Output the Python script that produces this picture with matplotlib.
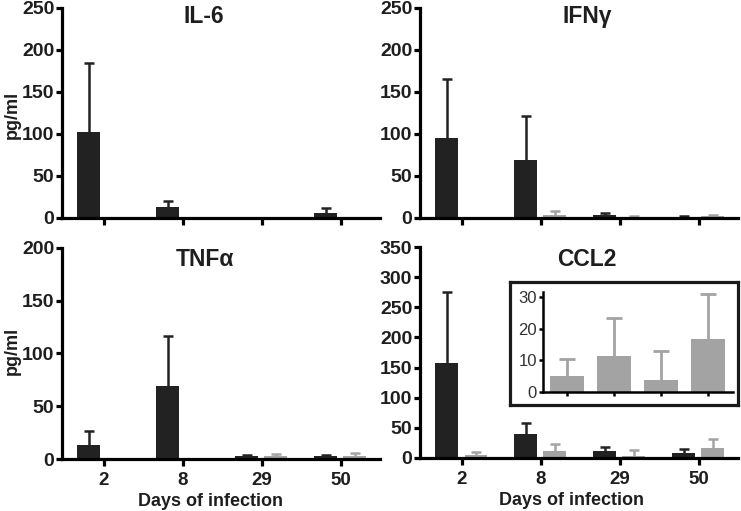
import matplotlib
matplotlib.use("Agg")
import matplotlib.pyplot as plt
import numpy as np

plt.rcParams['font.family'] = ['Liberation Sans', 'DejaVu Sans']

days = ["2", "8", "29", "50"]

il6_black = [102, 13, 0.6, 6]
il6_black_err = [82, 7, 0, 6]
il6_gray = [0.5, 0.5, 0.6, 0.4]
il6_gray_err = [0, 0, 0, 0]

ifng_black = [95, 69, 3, 1.5]
ifng_black_err = [71, 53, 3, 0.8]
ifng_gray = [0, 4, 1.5, 2.5]
ifng_gray_err = [0, 4, 0.8, 1.5]

tnfa_black = [13.5, 69, 3, 2.5]
tnfa_black_err = [13.5, 48, 1, 1]
tnfa_gray = [1, 1, 2.5, 3]
tnfa_gray_err = [0, 0, 2, 2.5]

ccl2_black = [158, 39, 11, 8]
ccl2_black_err = [118, 19, 7, 7]
ccl2_gray = [5.0, 11.3, 3.9, 16.6]
ccl2_gray_err = [5.5, 12.0, 9.1, 14.4]

BLACK = "#222222"
GRAY = "#a3a3a3"
TXT = "#1e1e1e"
W, H = 741, 511

fig = plt.figure(figsize=(W / 100, H / 100), dpi=100)


def px_axes(x0, x1, ytop, ybot):
    return fig.add_axes([x0 / W, 1 - ybot / H, (x1 - x0) / W, (ybot - ytop) / H])


def style(ax, ymax, step, lw=2.3):
    for s in ["top", "right"]:
        ax.spines[s].set_visible(False)
    for s in ["left", "bottom"]:
        ax.spines[s].set_linewidth(lw)
    ax.set_ylim(0, ymax)
    ax.set_yticks(np.arange(0, ymax + 1, step))
    ax.set_xlim(-0.53, 3.5)
    ax.set_xticks(np.arange(len(days)))
    ax.tick_params(axis="y", width=lw, length=4, direction="out", pad=1.5)
    ax.tick_params(axis="x", width=lw, length=5, direction="out", pad=4.5)
    for lab in ax.get_yticklabels():
        lab.set_fontweight("bold")
        lab.set_fontsize(14)
        lab.set_color(TXT)


def err_up(ax, x, v, e, color, lw=1.8, cap=3.5):
    _, caps, _ = ax.errorbar([x], [v], yerr=[[0], [e]], fmt="none", ecolor=color,
                             elinewidth=lw, capsize=cap, capthick=lw, zorder=1)
    if caps:
        caps[0].set_visible(False)


def draw(ax, vb, eb, vg, eg, xb=-0.19, xg=0.18, w=0.29):
    x = np.arange(len(days))
    ax.bar(x + xb, vb, w, color=BLACK, zorder=2)
    ax.bar(x + xg, vg, w, color=GRAY, zorder=2)
    for xi, v, e in zip(x + xb, vb, eb):
        if e > 0:
            err_up(ax, xi, v, e, BLACK)
    for xi, v, e in zip(x + xg, vg, eg):
        if e > 0:
            err_up(ax, xi, v, e, GRAY)


title_kw = dict(fontsize=16.5, fontweight="bold", ha="center", va="baseline", color=TXT)
lab_kw = dict(fontsize=13, fontweight="bold", color=TXT)

# Top-left IL-6
ax1 = px_axes(62, 380, 8, 218)
draw(ax1, il6_black, il6_black_err, il6_gray, il6_gray_err)
style(ax1, 250, 50)
ax1.set_xticklabels([])
ax1.text(0.447, 0.929, "IL-6", transform=ax1.transAxes, **title_kw)
ax1.set_ylabel("pg/ml", **lab_kw)
ax1.yaxis.set_label_coords(-0.128, 0.49)

# Top-right IFNγ
ax2 = px_axes(420, 738, 8, 218)
draw(ax2, ifng_black, ifng_black_err, ifng_gray, ifng_gray_err)
style(ax2, 250, 50)
ax2.set_xticklabels([])
ax2.text(0.525, 0.929, "IFNγ", transform=ax2.transAxes, **title_kw)

# Bottom-left TNFα
ax3 = px_axes(62, 380, 248, 459)
draw(ax3, tnfa_black, tnfa_black_err, tnfa_gray, tnfa_gray_err)
style(ax3, 200, 50)
ax3.set_xticklabels(days, fontsize=13.5, fontweight="bold", color=TXT)
ax3.text(0.45, 0.915, "TNFα", transform=ax3.transAxes, **title_kw)
ax3.set_ylabel("pg/ml", **lab_kw)
ax3.yaxis.set_label_coords(-0.128, 0.51)
ax3.set_xlabel("Days of infection", **lab_kw)
ax3.xaxis.set_label_coords(0.468, -0.162)

# Bottom-right CCL2
ax4 = px_axes(420, 738, 247, 458)
draw(ax4, ccl2_black, ccl2_black_err, ccl2_gray, ccl2_gray_err)
style(ax4, 350, 50)
ax4.set_xticklabels(days, fontsize=13.5, fontweight="bold", color=TXT)
ax4.text(0.525, 0.91, "CCL2", transform=ax4.transAxes, **title_kw)
ax4.set_xlabel("Days of infection", **lab_kw)
ax4.xaxis.set_label_coords(0.475, -0.162)

# Inset frame
box = px_axes(510, 738, 282, 405)
box.set_xticks([])
box.set_yticks([])
box.set_facecolor("white")
for s in box.spines.values():
    s.set_linewidth(2.3)
    s.set_color("#1a1a1a")

# Inset
axi = px_axes(543, 733, 292, 392)
xi = np.arange(len(days))
axi.bar(xi, ccl2_gray, 0.72, color=GRAY, zorder=2)
for x0, v, e in zip(xi, ccl2_gray, ccl2_gray_err):
    err_up(axi, x0, v, e, GRAY, lw=2.0, cap=5.5)
axi.set_facecolor("none")
for s in ["top", "right"]:
    axi.spines[s].set_visible(False)
for s in ["left", "bottom"]:
    axi.spines[s].set_linewidth(1.8)
axi.set_xlim(-0.51, 3.53)
axi.set_ylim(0, 31.5)
axi.set_yticks([0, 10, 20, 30])
axi.set_xticks(xi)
axi.set_xticklabels([])
axi.tick_params(axis="both", width=1.8, length=3, direction="out", pad=1.5)
for lab in axi.get_yticklabels():
    lab.set_fontsize(12)
    lab.set_color("#333333")

fig.savefig("out.png", dpi=100)
